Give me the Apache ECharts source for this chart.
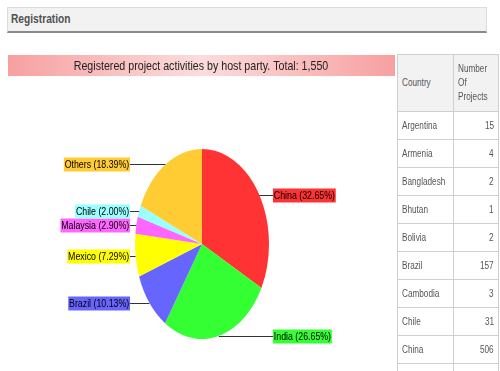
<!DOCTYPE html>
<html><head><meta charset="utf-8">
<script src="https://cdn.jsdelivr.net/npm/echarts@6/dist/echarts.min.js"></script>
<style>
html,body{margin:0;padding:0;background:#fff;}
body{width:500px;height:371px;position:relative;overflow:hidden;font-family:"Liberation Sans",Arial,sans-serif;}
#hdr{position:absolute;left:7px;top:7px;width:480px;height:26px;background:#f2f2f2;border:1px solid #dcdcdc;border-bottom:2px solid #8a8a8a;color:#4a4a4a;font-size:12px;line-height:23px;padding-left:3px;box-sizing:border-box;}
#hdr span{display:inline-block;transform:scaleX(0.85);transform-origin:left center;font-weight:bold;color:#505050;}
#chart{position:absolute;left:0;top:0;width:500px;height:371px;}
#tbl{position:absolute;left:397px;top:54px;width:101px;table-layout:fixed;border-collapse:collapse;font-size:10px;color:#555;}
#tbl td,#tbl th{border:1px solid #cfcfcf;padding:0 4px;font-weight:normal;overflow:hidden;white-space:nowrap;}
#tbl th{background:#f2f2f2;height:56px;text-align:left;line-height:14px;}
#tbl td{height:27px;background:#fff;}
#tbl td.n{text-align:right;}
.s{display:inline-block;transform:scaleX(0.82);transform-origin:left center;}
td.n .s{transform-origin:right center;}
</style></head>
<body>
<div id="chart"></div>
<div id="hdr"><span>Registration</span></div>
<table id="tbl"><colgroup><col style="width:56px"><col style="width:45px"></colgroup></table>
<script>
const chartTitle = 'Registered project activities by host party. Total: 1,550';
const sliceNames = ['China', 'India', 'Brazil', 'Mexico', 'Malaysia', 'Chile', 'Others'];
const slicePercents = [32.65, 26.65, 10.13, 7.29, 2.90, 2.00, 18.39];
const sliceColors = ['#ff3333', '#33ff33', '#6666ff', '#ffff00', '#ff66ff', '#99ffff', '#ffcc33'];
const tableCountries = ['Argentina', 'Armenia', 'Bangladesh', 'Bhutan', 'Bolivia', 'Brazil', 'Cambodia', 'Chile', 'China'];
const tableProjects = [15, 4, 2, 1, 2, 157, 3, 31, 506];

// table
const tbl = document.getElementById('tbl');
let html = '<tr><th><span class="s">Country</span></th><th><span class="s">Number<br>Of<br>Projects</span></th></tr>';
tableCountries.forEach((c, i) => {
  html += '<tr><td><span class="s">' + c + '</span></td><td class="n"><span class="s">' + tableProjects[i] + '</span></td></tr>';
});
html += '<tr><td>&nbsp;</td><td class="n">&nbsp;</td></tr>';
tbl.insertAdjacentHTML('beforeend', html);

const total = slicePercents.reduce((a, b) => a + b, 0);
const CX = 202, CY = 244, RX = 67, RY = 95;
const FONT = '11px "Liberation Sans", Arial, sans-serif';
const TSCALE = 0.8;

const chart = echarts.init(document.getElementById('chart'), null, {renderer: 'canvas'});
chart.setOption({
  animation: false,
  graphic: [
    {type: 'rect', left: 8, top: 55, shape: {width: 387, height: 21},
     style: {fill: new echarts.graphic.LinearGradient(0, 0, 1, 0, [
       {offset: 0, color: '#f7a0a0'}, {offset: 0.5, color: '#fcdcdc'}, {offset: 1, color: '#f7a0a0'}])}, z: 0},
    {type: 'text', x: 201, y: 66, scaleX: 0.82, style: {text: chartTitle, fill: '#222',
      font: '13px "Liberation Sans", Arial, sans-serif', align: 'center', verticalAlign: 'middle'}, z: 1}
  ],
  series: [{
    type: 'custom',
    coordinateSystem: 'none',
    data: slicePercents.map(v => [v]),
    renderItem: function (params, api) {
      const i = params.dataIndex;
      let before = 0;
      for (let j = 0; j < i; j++) before += slicePercents[j];
      const v = api.value(0);
      const a0 = -Math.PI / 2 + before / total * Math.PI * 2;
      const a1 = a0 + v / total * Math.PI * 2;
      const am = (a0 + a1) / 2;
      const px = CX + RX * Math.cos(am);
      const py = Math.round(CY + RY * Math.sin(am)) + 0.5;
      const right = Math.cos(am) > 0;
      const lx = right ? 273 : 130;
      const color = sliceColors[i];
      return {
        type: 'group',
        children: [
          {type: 'sector', x: CX, y: CY, scaleX: RX / RY,
           shape: {cx: 0, cy: 0, r: RY, r0: 0, startAngle: a0, endAngle: a1, clockwise: true},
           style: {fill: color}},
          {type: 'line', shape: {x1: px, y1: py, x2: lx, y2: py}, style: {stroke: '#333', lineWidth: 1}},
          {type: 'text', x: lx, y: py, scaleX: TSCALE,
           style: {text: sliceNames[i] + ' (' + v.toFixed(2) + '%)', fill: '#000', font: FONT,
             backgroundColor: color, padding: [2, 1, 1, 1],
             align: right ? 'left' : 'right', verticalAlign: 'middle'}}
        ]
      };
    }
  }]
});
</script>
</body></html>
